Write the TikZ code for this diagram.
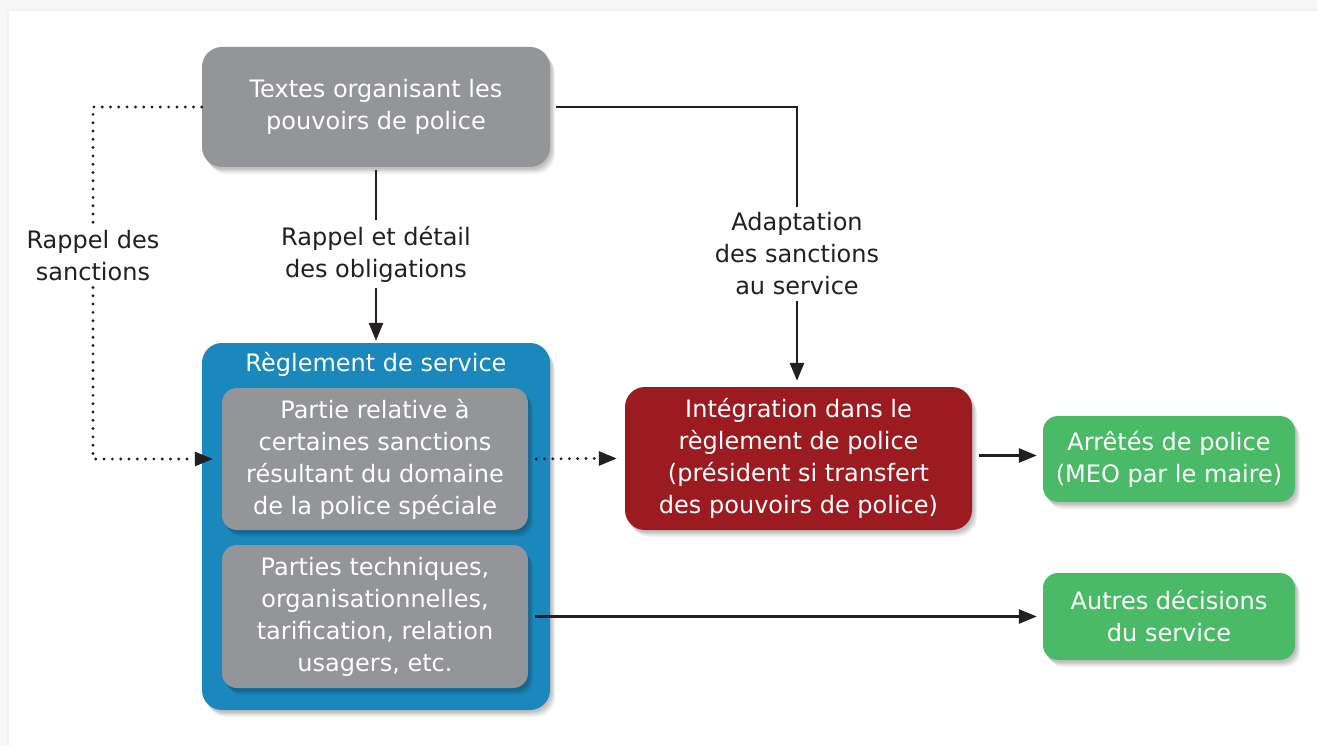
\documentclass[tikz,border=0pt]{standalone}
\usepackage{fontspec}
\setmainfont{DejaVu Sans}
\usetikzlibrary{arrows.meta,shadows}
\definecolor{boxgray}{HTML}{939598}
\definecolor{boxblue}{HTML}{1A87BD}
\definecolor{boxred}{HTML}{9B1B21}
\definecolor{boxgreen}{HTML}{4BBA68}
\definecolor{ink}{HTML}{231F20}
\begin{document}
\begin{tikzpicture}[x=1pt,y=-1pt,
  txt/.style={font=\fontsize{24}{32}\selectfont, align=center},
  shad/.style={
    drop shadow={shadow xshift=5pt,shadow yshift=-7pt,opacity=0.05,fill=black},
    drop shadow={shadow xshift=4pt,shadow yshift=-5.5pt,opacity=0.06,fill=black},
    drop shadow={shadow xshift=3pt,shadow yshift=-4pt,opacity=0.07,fill=black},
    drop shadow={shadow xshift=1.5pt,shadow yshift=-2.5pt,opacity=0.08,fill=black}},
  bigbox/.style={txt, shad, text=white, rounded corners=20pt, inner sep=0pt},
  smallbox/.style={txt, shad, text=white, rounded corners=15pt, inner sep=0pt},
  lab/.style={txt, text=ink, inner xsep=2pt, inner ysep=6pt},
  link/.style={draw=ink, line width=2.8pt},
  dotlink/.style={draw=ink, line width=3.2pt, line cap=round, dash pattern=on 0pt off 8.3pt},
  tip/.style={-{Triangle[length=18pt,width=14pt]}}
]
\useasboundingbox (0,0) rectangle (1317,746);
\fill[gray!6] (0,0) rectangle (1317,746);
\fill[gray!11] (7,9) rectangle (1317,746);
\fill[white] (9,11) rectangle (1317,746);

% boxes
\node[bigbox, fill=boxgray, minimum width=348pt, minimum height=120pt] (t) at (376,107)
  {Textes organisant les\\pouvoirs de police};
\node[bigbox, fill=boxblue, minimum width=348pt, minimum height=367pt] (rs) at (376,526.5) {};
\node[txt, text=white, inner sep=0pt] (rstitle) at (376,364) {Règlement de service};
\node[smallbox, fill=boxgray, minimum width=306pt, minimum height=142pt] (p1) at (375,459)
  {Partie relative à\\certaines sanctions\\résultant du domaine\\de la police spéciale};
\node[smallbox, fill=boxgray, minimum width=306pt, minimum height=143pt] (p2) at (375,616.5)
  {Parties techniques,\\organisationnelles,\\tarification, relation\\usagers, etc.};
\node[bigbox, fill=boxred, minimum width=347pt, minimum height=143pt] (r) at (798.5,458.5)
  {Intégration dans le\\règlement de police\\(président si transfert\\des pouvoirs de police)};
\node[smallbox, fill=boxgreen, minimum width=252pt, minimum height=86pt] (g1) at (1169,459)
  {Arrêtés de police\\(MEO par le maire)};
\node[smallbox, fill=boxgreen, minimum width=252pt, minimum height=87pt] (g2) at (1169,616.5)
  {Autres décisions\\du service};

% labels
\node[lab] (l1) at (93,256) {Rappel des\\sanctions};
\node[lab] (l2) at (376,254) {Rappel et détail\\des obligations};
\node[lab] (l3) at (797,254) {Adaptation\\des sanctions\\au service};

% connectors
\draw[dotlink] (t.west) -| (l1.north);
\draw[dotlink] (l1.south) -- (l1.south |- p1.west) -- ([xshift=-30pt]p1.west);
\draw[link, tip, shorten >=9pt] ([xshift=-27pt]p1.west) -- (p1.west);
\draw[link, shorten <=3pt] (t.south) -- (l2.north);
\draw[link, tip, shorten >=2pt] (l2.south) -- (rs.north);
\draw[link, shorten <=6pt] (t.east) -| (l3.north);
\draw[link, tip, shorten >=6pt] (l3.south) -- (l3.south |- r.north);
\draw[dotlink, shorten <=8pt] (p1.east) -- ([xshift=-28pt]r.west);
\draw[link, tip, shorten >=8pt] ([xshift=-26pt]r.west) -- (r.west);
\draw[link, tip, shorten <=7pt, shorten >=6pt] ([yshift=3pt]r.east) -- ([yshift=3pt]r.east -| g1.west);
\draw[link, tip, shorten <=7pt, shorten >=6pt] (p2.east) -- (p2.east -| g2.west);
\end{tikzpicture}
\end{document}
